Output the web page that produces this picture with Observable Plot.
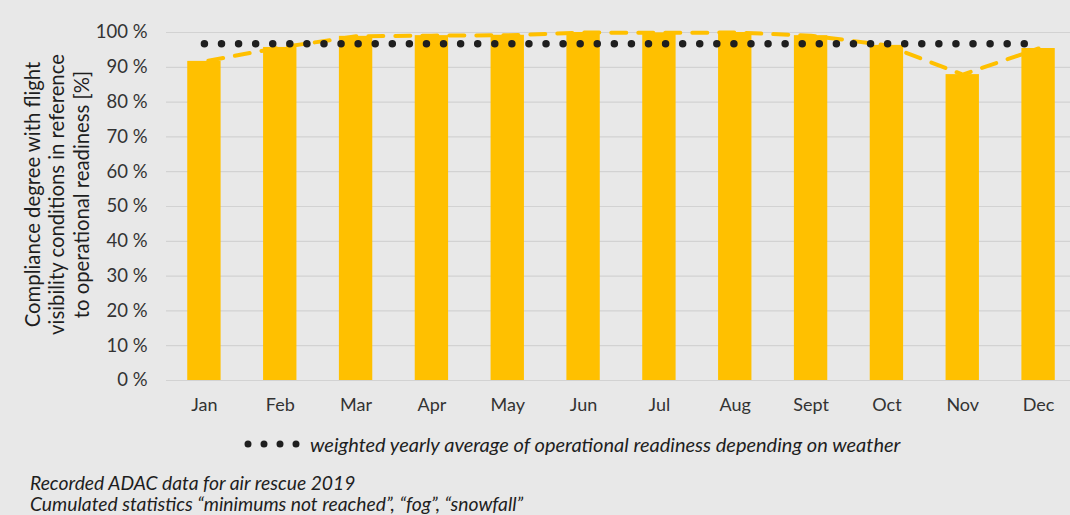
<!DOCTYPE html>
<html>
<head>
<meta charset="utf-8">
<script src="https://cdn.jsdelivr.net/npm/d3@7"></script>
<script src="https://cdn.jsdelivr.net/npm/@observablehq/plot@0.6"></script>
<style>
  html, body { margin: 0; padding: 0; background: #e8e8e8; overflow: hidden; }
  #wrap { position: relative; width: 1070px; height: 515px; background: #e8e8e8; overflow: hidden; font-family: Lato, "Open Sans", sans-serif; }
  #chart svg { background: transparent !important; }
  .legend { position: absolute; left: 244px; top: 432px; display: flex; align-items: center; font-style: italic; font-size: 20px; line-height: 24px; color: #1e1e1e; }
  .legend svg { margin-right: 6px; }
  .caption { position: absolute; left: 30px; font-style: italic; font-size: 19.3px; line-height: 20px; color: #1e1e1e; white-space: nowrap; }
</style>
</head>
<body>
<div id="wrap">
  <div id="chart"></div>
  <div class="legend" id="legend"></div>
  <div class="caption" id="cap1" style="top:473px"></div>
  <div class="caption" id="cap2" style="top:494px"></div>
</div>
<script>
const months = ["Jan","Feb","Mar","Apr","May","Jun","Jul","Aug","Sept","Oct","Nov","Dec"];
const compliance = [91.7, 95.7, 98.9, 99.1, 99.2, 100, 99.9, 100, 99.1, 96.3, 87.9, 95.4];
const weightedAverage = 96.8;
const yTicks = [0,10,20,30,40,50,60,70,80,90,100];
const yTitle = "Compliance degree with flight\nvisibility conditions in reference\nto operational readiness [%]";
const legendLabel = "weighted yearly average of operational readiness depending on weather";
const captions = ["Recorded ADAC data for air rescue 2019", "Cumulated statistics \u201cminimums not reached\u201d, \u201cfog\u201d, \u201csnowfall\u201d"];

const data = months.map((m, i) => ({month: m, value: compliance[i], avg: weightedAverage}));

const chart = Plot.plot({
  width: 1070,
  height: 425,
  marginLeft: 166,
  marginRight: -6,
  marginTop: 32,
  marginBottom: 45,
  style: {background: "transparent", fontFamily: "Lato, 'Open Sans', sans-serif", fontSize: "18px", color: "#333", overflow: "visible"},
  x: {domain: months, paddingInner: 0.56, paddingOuter: 0.28, round: false, label: null, tickSize: 0, tickPadding: 18},
  y: {domain: [0, 100], ticks: yTicks, tickFormat: d => d + " %", label: null, tickSize: 0, tickPadding: 19},
  marks: [
    Plot.gridY(yTicks, {stroke: "#d2d2d2", strokeOpacity: 1, strokeWidth: 1.2}),
    Plot.lineY(data, {x: "month", y: "value", stroke: "#ffc000", strokeWidth: 4, strokeDasharray: "15 12", strokeDashoffset: -4}),
    Plot.barY(data, {x: "month", y: "value", fill: "#ffc000"}),
    Plot.lineY(data, {x: "month", y: "avg", stroke: "#1f1f1f", strokeWidth: 7.5, strokeDasharray: "0 17.08", strokeLinecap: "round"}),
    Plot.axisX({tickSize: 0, tickPadding: 18, fontSize: 18, fill: "#333"}),
    Plot.axisY({ticks: yTicks, tickFormat: d => d + " %", tickSize: 0, tickPadding: 19, fontSize: 18.5, fill: "#333"}),
    Plot.text([yTitle], {frameAnchor: "left", rotate: -90, dx: -110, dy: -12, fontSize: 20.3, lineHeight: 1.22, fill: "#1e1e1e", textAnchor: "middle"})
  ]
});
document.getElementById("chart").appendChild(chart);

// legend
const lg = document.getElementById("legend");
const sw = d3.create("svg").attr("width", 60).attr("height", 12);
sw.append("line").attr("x1", 4).attr("x2", 53).attr("y1", 6).attr("y2", 6)
  .attr("stroke", "#1f1f1f").attr("stroke-width", 7).attr("stroke-linecap", "round").attr("stroke-dasharray", "0 16");
lg.appendChild(sw.node());
const sp = document.createElement("span");
sp.textContent = legendLabel;
lg.appendChild(sp);
document.getElementById("cap1").textContent = captions[0];
document.getElementById("cap2").textContent = captions[1];
</script>
</body>
</html>
